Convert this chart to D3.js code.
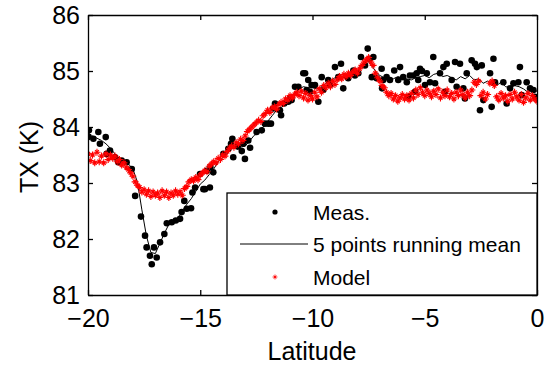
<!DOCTYPE html>
<html>
<head>
<meta charset="utf-8">
<script src="https://cdn.jsdelivr.net/npm/d3@7"></script>
<style>
  html, body { margin: 0; padding: 0; background: #fff; }
  svg { display: block; font-family: Arial, "Liberation Sans", sans-serif; }
</style>
</head>
<body>
<svg id="chart" width="546" height="366"></svg>
<script>
// Measured TX (K) versus latitude
const measLat = [-19.99,-19.96,-19.76,-19.54,-19.47,-19.21,-19.17,-19.02,-18.80,-18.65,-18.50,-18.28,-18.05,-17.90,-17.64,-17.46,-17.39,-17.24,-17.16,-17.06,-16.94,-16.79,-16.60,-16.49,-16.27,-16.09,-15.90,-15.83,-15.71,-15.60,-15.41,-15.35,-15.23,-15.01,-14.86,-14.79,-14.71,-14.57,-14.55,-14.42,-13.97,-13.75,-13.63,-13.57,-13.53,-13.33,-13.15,-13.08,-13.01,-12.86,-12.78,-12.49,-12.26,-12.12,-11.97,-11.85,-11.75,-11.67,-11.45,-11.40,-11.26,-11.08,-11.00,-10.93,-10.78,-10.63,-10.41,-10.33,-10.26,-10.19,-10.11,-10.04,-9.89,-9.74,-9.59,-9.52,-9.30,-9.22,-9.00,-8.85,-8.73,-8.63,-8.41,-8.18,-8.11,-7.96,-7.84,-7.66,-7.54,-7.44,-7.36,-7.29,-7.14,-6.92,-6.90,-6.85,-6.70,-6.55,-6.36,-6.18,-6.10,-5.96,-5.80,-5.73,-5.66,-5.51,-5.43,-5.36,-5.29,-5.21,-5.12,-4.99,-4.91,-4.77,-4.62,-4.54,-4.32,-4.17,-4.10,-4.02,-3.80,-3.65,-3.58,-3.43,-3.28,-3.21,-3.13,-2.91,-2.76,-2.68,-2.54,-2.46,-2.39,-2.09,-2.02,-1.94,-1.87,-1.50,-1.35,-1.20,-1.05,-0.83,-0.76,-0.68,-0.46,-0.31,-0.16,-0.09];
const measVal = [83.82,83.94,83.79,83.91,83.70,83.82,83.52,83.58,83.46,83.37,83.40,83.37,83.25,82.77,82.40,82.06,81.85,81.70,81.55,81.85,81.67,81.94,82.09,82.28,82.30,82.33,82.36,82.48,82.68,82.54,82.55,82.83,82.92,83.16,82.89,82.89,83.22,82.92,83.28,83.19,83.52,83.61,83.70,83.79,83.46,83.65,83.57,83.70,83.43,83.76,83.63,83.91,83.94,84.06,84.06,84.06,84.33,84.42,84.30,84.21,84.42,84.45,84.51,84.48,84.72,84.72,84.96,84.96,84.66,84.84,84.63,84.75,84.75,84.45,84.89,84.66,84.84,84.75,85.07,84.89,85.13,84.69,84.87,85.01,84.92,84.96,85.25,85.10,85.40,85.22,84.89,85.25,84.87,85.04,84.69,84.84,84.89,84.84,85.01,84.84,85.07,84.89,84.80,84.54,84.92,84.92,84.63,84.96,84.84,85.04,85.00,84.75,84.96,84.80,85.25,84.78,84.96,85.07,84.63,85.13,84.84,85.16,84.72,85.13,84.69,84.51,84.96,85.19,85.13,85.07,84.30,85.10,84.48,84.96,84.36,85.22,84.80,84.80,84.42,84.69,84.78,84.80,85.07,84.57,84.80,84.69,84.66,84.54];

// 5 points running mean of the measurements
const meanLat = [-20.0,-19.8,-19.6,-19.4,-19.2,-19.0,-18.8,-18.6,-18.4,-18.2,-18.0,-17.8,-17.6,-17.4,-17.2,-17.0,-16.8,-16.6,-16.4,-16.2,-16.0,-15.8,-15.6,-15.4,-15.2,-15.0,-14.8,-14.6,-14.4,-14.2,-14.0,-13.8,-13.6,-13.4,-13.2,-13.0,-12.8,-12.6,-12.4,-12.2,-12.0,-11.8,-11.6,-11.4,-11.2,-11.0,-10.8,-10.6,-10.4,-10.2,-10.0,-9.8,-9.6,-9.4,-9.2,-9.0,-8.8,-8.6,-8.4,-8.2,-8.0,-7.8,-7.6,-7.4,-7.2,-7.0,-6.8,-6.6,-6.4,-6.2,-6.0,-5.8,-5.6,-5.4,-5.2,-5.0,-4.8,-4.6,-4.4,-4.2,-4.0,-3.8,-3.6,-3.4,-3.2,-3.0,-2.8,-2.6,-2.4,-2.2,-2.0,-1.8,-1.6,-1.4,-1.2,-1.0,-0.8,-0.6,-0.4,-0.2,0.0];
const meanVal = [83.90,83.84,83.80,83.76,83.70,83.62,83.52,83.44,83.38,83.34,83.25,83.02,82.52,82.06,81.76,81.74,81.92,82.10,82.26,82.32,82.36,82.50,82.62,82.72,82.85,82.98,83.05,83.15,83.25,83.38,83.45,83.52,83.62,83.62,83.64,83.66,83.75,83.85,83.92,84.00,84.10,84.20,84.30,84.35,84.40,84.50,84.60,84.68,84.72,84.70,84.70,84.68,84.72,84.78,84.82,84.88,84.92,84.88,84.92,84.96,85.00,85.10,85.20,85.12,85.00,84.92,84.88,84.84,84.86,84.90,84.88,84.86,84.84,84.88,84.90,84.92,84.88,84.94,84.96,84.90,84.92,84.88,84.84,84.90,84.86,84.92,84.84,84.86,84.78,84.82,84.76,84.74,84.80,84.72,84.70,84.74,84.72,84.68,84.62,84.66,84.64];

// Model TX (K)
const modelLat = [-20.0,-19.9,-19.8,-19.7,-19.6,-19.5,-19.4,-19.3,-19.2,-19.1,-19.0,-18.9,-18.8,-18.7,-18.6,-18.5,-18.4,-18.3,-18.2,-18.1,-18.0,-17.9,-17.8,-17.7,-17.6,-17.5,-17.4,-17.3,-17.2,-17.1,-17.0,-16.9,-16.8,-16.7,-16.6,-16.5,-16.4,-16.3,-16.2,-16.1,-16.0,-15.9,-15.8,-15.7,-15.6,-15.5,-15.4,-15.3,-15.2,-15.1,-15.0,-14.9,-14.8,-14.7,-14.6,-14.5,-14.4,-14.3,-14.2,-14.1,-14.0,-13.9,-13.8,-13.7,-13.6,-13.5,-13.4,-13.3,-13.2,-13.1,-13.0,-12.9,-12.8,-12.7,-12.6,-12.5,-12.4,-12.3,-12.2,-12.1,-12.0,-11.9,-11.8,-11.7,-11.6,-11.5,-11.4,-11.3,-11.2,-11.1,-11.0,-10.9,-10.8,-10.7,-10.6,-10.5,-10.4,-10.3,-10.2,-10.1,-10.0,-9.9,-9.8,-9.7,-9.6,-9.5,-9.4,-9.3,-9.2,-9.1,-9.0,-8.9,-8.8,-8.7,-8.6,-8.5,-8.4,-8.3,-8.2,-8.1,-8.0,-7.9,-7.8,-7.7,-7.6,-7.5,-7.4,-7.3,-7.2,-7.1,-7.0,-6.9,-6.8,-6.7,-6.6,-6.5,-6.4,-6.3,-6.2,-6.1,-6.0,-5.9,-5.8,-5.7,-5.6,-5.5,-5.4,-5.3,-5.2,-5.1,-5.0,-4.9,-4.8,-4.7,-4.6,-4.5,-4.4,-4.3,-4.2,-4.1,-4.0,-3.9,-3.8,-3.7,-3.6,-3.5,-3.4,-3.3,-3.2,-3.1,-3.0,-2.9,-2.8,-2.7,-2.6,-2.5,-2.4,-2.3,-2.2,-2.1,-2.0,-1.9,-1.8,-1.7,-1.6,-1.5,-1.4,-1.3,-1.2,-1.1,-1.0,-0.9,-0.8,-0.7,-0.6,-0.5,-0.4,-0.3,-0.2,-0.1,0.0];
const modelVal = [83.52,83.40,83.50,83.36,83.55,83.38,83.48,83.36,83.52,83.42,83.50,83.44,83.48,83.38,83.42,83.32,83.36,83.28,83.24,83.18,83.12,83.02,82.96,82.92,82.84,82.88,82.80,82.86,82.76,82.84,82.78,82.82,82.74,82.86,82.78,82.84,82.74,82.82,82.78,82.86,82.80,82.84,82.78,82.90,82.94,83.02,83.06,83.04,83.10,83.06,83.14,83.18,83.22,83.20,83.30,83.34,83.38,83.36,83.44,83.42,83.50,83.48,83.56,83.62,83.66,83.64,83.72,83.70,83.78,83.76,83.84,83.92,83.96,84.00,84.04,84.08,84.12,84.10,84.20,84.24,84.30,84.26,84.34,84.36,84.32,84.40,84.44,84.42,84.50,84.48,84.56,84.52,84.58,84.62,84.56,84.64,84.52,84.60,84.48,84.56,84.50,84.62,84.54,84.68,84.62,84.74,84.70,84.78,84.72,84.82,84.76,84.84,84.90,84.86,84.94,84.90,84.96,84.92,84.98,85.02,84.96,85.04,85.10,85.16,85.20,85.24,85.16,85.10,84.96,84.88,84.82,84.74,84.70,84.62,84.56,84.60,84.50,84.56,84.46,84.52,84.58,84.50,84.56,84.48,84.60,84.52,84.66,84.58,84.70,84.62,84.56,84.66,84.60,84.54,84.64,84.58,84.68,84.52,84.62,84.56,84.66,84.54,84.60,84.50,84.62,84.56,84.66,84.58,84.52,84.62,84.56,84.66,84.80,84.76,84.82,84.56,84.62,84.50,84.58,84.78,84.82,84.74,84.54,84.48,84.60,84.52,84.56,84.46,84.58,84.50,84.62,84.54,84.48,84.58,84.44,84.52,84.60,84.48,84.56,84.50,84.46];

const xTicks = [-20, -15, -10, -5, 0];
const yTicks = [81, 82, 83, 84, 85, 86];
const legendLabels = ["Meas.", "5 points running mean", "Model"];

const svg = d3.select("#chart");
const plotLeft = 88, plotRight = 537, plotTop = 15, plotBottom = 295;

const x = d3.scaleLinear().domain([-20, 0]).range([plotLeft, plotRight]);
const y = d3.scaleLinear().domain([81, 86]).range([plotBottom, plotTop]);

// plot area clip
svg.append("clipPath").attr("id", "plotClip")
  .append("rect").attr("x", plotLeft).attr("y", plotTop)
  .attr("width", plotRight - plotLeft).attr("height", plotBottom - plotTop);

const plot = svg.append("g").attr("clip-path", "url(#plotClip)");

const meas = measLat.map((d, i) => [d, measVal[i]]);
const mean = meanLat.map((d, i) => [d, meanVal[i]]);
const model = modelLat.map((d, i) => [d, modelVal[i]]);

// asterisk marker for the model values
const starPath = "M-3.5,0H3.5M0,-3.5V3.5M-2,-2L2,2M-2,2L2,-2";

plot.append("g").selectAll("circle").data(meas).join("circle")
  .attr("cx", d => x(d[0])).attr("cy", d => y(d[1])).attr("r", 3.3).attr("fill", "#000");

plot.append("path").datum(mean)
  .attr("d", d3.line().x(d => x(d[0])).y(d => y(d[1])))
  .attr("fill", "none").attr("stroke", "#000").attr("stroke-width", 1);

plot.append("g").selectAll("path").data(model).join("path")
  .attr("transform", d => `translate(${x(d[0])},${y(d[1])})`)
  .attr("d", starPath).attr("fill", "none").attr("stroke", "#ff0000").attr("stroke-width", 1.1);

// axes with inward ticks on all four sides
const tickLen = 5;
const axB = svg.append("g").attr("transform", `translate(0,${plotBottom})`)
  .call(d3.axisBottom(x).tickValues(xTicks).tickSizeInner(-tickLen).tickSizeOuter(0).tickPadding(14).tickFormat(d3.format("d")));
const axT = svg.append("g").attr("transform", `translate(0,${plotTop})`)
  .call(d3.axisTop(x).tickValues(xTicks).tickSizeInner(-tickLen).tickSizeOuter(0).tickFormat(""));
const axL = svg.append("g").attr("transform", `translate(${plotLeft},0)`)
  .call(d3.axisLeft(y).tickValues(yTicks).tickSizeInner(-tickLen).tickSizeOuter(0).tickPadding(8).tickFormat(d3.format("d")));
const axR = svg.append("g").attr("transform", `translate(${plotRight},0)`)
  .call(d3.axisRight(y).tickValues(yTicks).tickSizeInner(-tickLen).tickSizeOuter(0).tickFormat(""));

[axB, axT, axL, axR].forEach(g => {
  g.selectAll(".domain").attr("stroke", "#000").attr("stroke-width", 1.3);
  g.selectAll(".tick line").attr("stroke", "#000").attr("stroke-width", 1.3);
  g.selectAll(".tick text").attr("fill", "#000").style("font-size", "25px").style("font-family", "Arial, 'Liberation Sans', sans-serif");
});
axL.selectAll(".tick text").attr("dy", "0.34em");

// axis titles
svg.append("text").attr("x", 312).attr("y", 360).attr("text-anchor", "middle")
  .style("font-size", "25px").text("Latitude");
svg.append("text").attr("transform", "translate(38,157) rotate(-90)").attr("text-anchor", "middle")
  .style("font-size", "25px").text("TX (K)");

// legend
const lg = svg.append("g");
lg.append("rect").attr("x", 227).attr("y", 193).attr("width", plotRight - 227).attr("height", plotBottom - 193)
  .attr("fill", "#fff").attr("stroke", "#000").attr("stroke-width", 1.3);
const rowY = [212, 244, 277];
lg.append("circle").attr("cx", 275).attr("cy", rowY[0]).attr("r", 2.6).attr("fill", "#000");
lg.append("line").attr("x1", 240).attr("x2", 308).attr("y1", rowY[1]).attr("y2", rowY[1]).attr("stroke", "#000").attr("stroke-width", 1);
lg.append("path").attr("transform", `translate(275,${rowY[2]}) scale(0.7)`).attr("d", starPath)
  .attr("fill", "none").attr("stroke", "#ff0000").attr("stroke-width", 1.2);
lg.selectAll("text.lab").data(legendLabels).join("text").attr("class", "lab")
  .attr("x", 313).attr("y", (d, i) => rowY[i]).attr("dy", "0.36em")
  .style("font-size", "21px").text(d => d);
</script>
</body>
</html>
